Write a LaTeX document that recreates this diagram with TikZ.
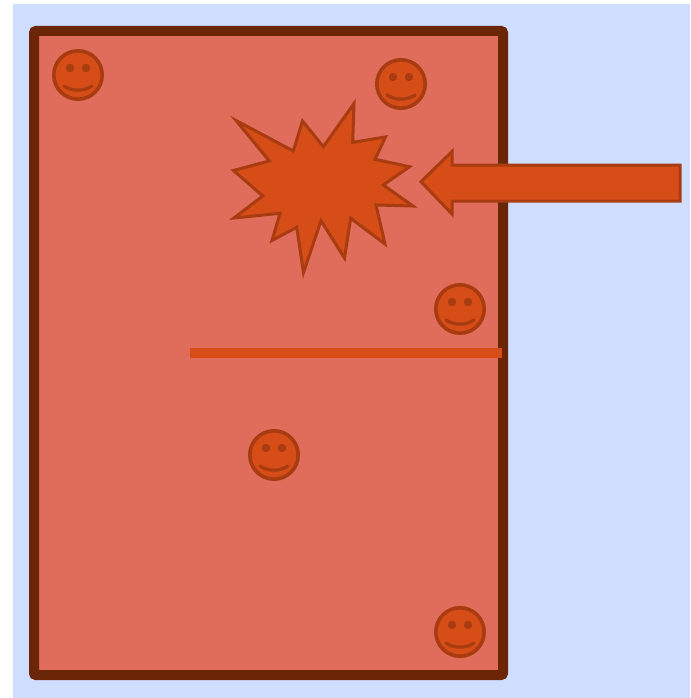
\documentclass[tikz,border=0pt]{standalone}
\definecolor{bgblue}{HTML}{CFDDFF}
\definecolor{roomfill}{HTML}{E06C5C}
\definecolor{roomedge}{HTML}{6B2608}
\definecolor{orangefill}{HTML}{D64D17}
\definecolor{orangeedge}{HTML}{A83C10}
\tikzset{
  room/.style={fill=roomfill,draw=roomedge,line width=10pt,rounded corners=2pt},
  shapeorange/.style={fill=orangefill,draw=orangeedge,line width=3pt,line join=miter,miter limit=10},
  smiley/.pic={
    \fill[orangefill,draw=orangeedge,line width=3.6pt] (0,0) circle[radius=24.2];
    \fill[orangeedge] (-8,-7) circle[radius=4.2] (8,-7) circle[radius=4.2];
    \draw[orangeedge,line width=3.2pt,line cap=round] (-14,11) .. controls (-6,16.5) and (6,16.5) .. (14,11);
  }
}
\begin{document}
\begin{tikzpicture}[x=1pt,y=-1pt]
\useasboundingbox (0,0) rectangle (690,698);
\fill[white] (0,0) rectangle (690,698);
\fill[bgblue] (13,4) rectangle (690,698);
\path[room] (34,31) rectangle (503,675);
\pic at (78,75) {smiley};
\pic at (401,84) {smiley};
\pic at (460,309) {smiley};
\pic at (274,455) {smiley};
\pic at (460,632) {smiley};
\fill[orangefill] (190,348) rectangle (502,358);
\path[shapeorange] (236,120.5) -- (293.3,151) -- (302.5,121) -- (323.3,146.7) -- (354,103.5) -- (352.7,142.3) -- (385.5,137) -- (375,159.3) -- (409.5,166.7) -- (383.3,185) -- (413,206) -- (376,205) -- (385,244) -- (350.7,218.3) -- (344.5,258) -- (321,220.7) -- (303.5,272.5) -- (296.7,227.3) -- (272,240.5) -- (280,213.3) -- (234,218) -- (262.7,196) -- (233.5,170.5) -- (269.3,161) -- cycle;
\path[shapeorange] (421,181.7) -- (452,151.5) -- (452,165) -- (680,165) -- (680,201) -- (452,201) -- (452,214) -- cycle;
\end{tikzpicture}
\end{document}
